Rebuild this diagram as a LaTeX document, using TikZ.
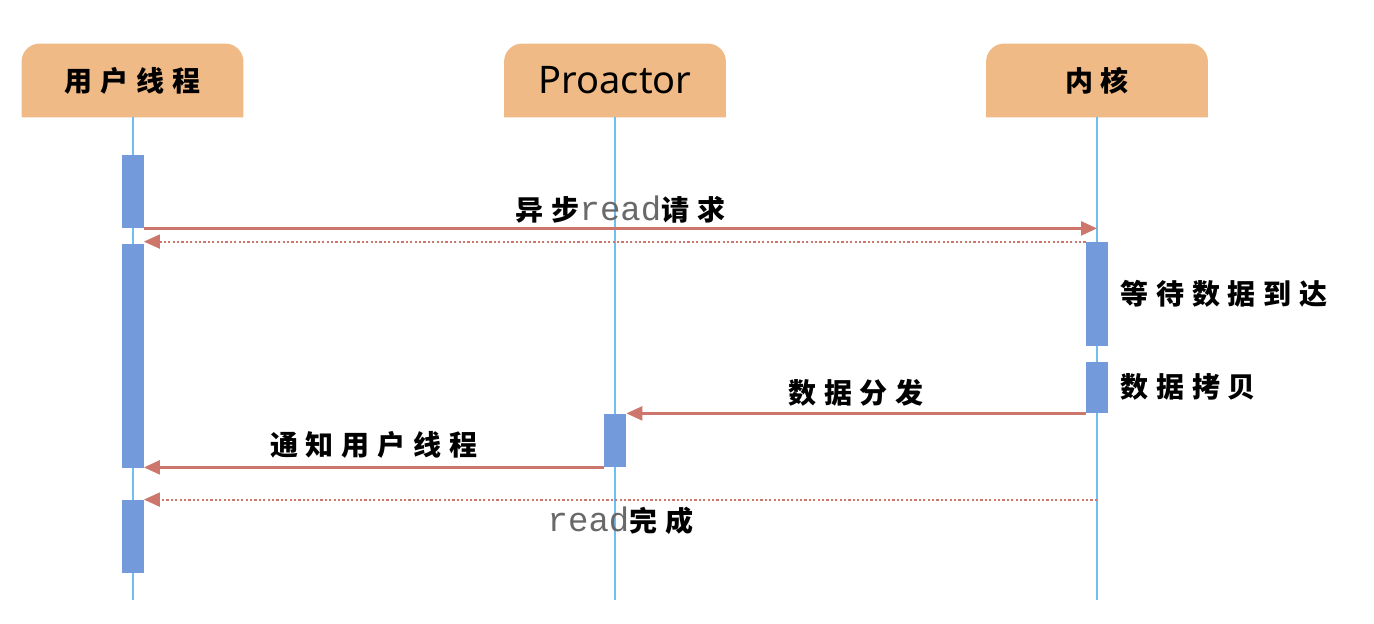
\documentclass[tikz,border=0pt]{standalone}
\usepackage{fontspec}
\newfontfamily\cjk{Noto Sans CJK SC}[LetterSpace=28]
\newfontfamily\monof{Liberation Mono}
\newfontfamily\procf{Noto Sans}
\usetikzlibrary{arrows.meta,backgrounds}
\definecolor{hdrc}{RGB}{240,186,134}
\definecolor{barc}{RGB}{115,155,220}
\definecolor{lifec}{RGB}{110,190,240}
\definecolor{arrc}{RGB}{205,118,108}
\definecolor{monoc}{RGB}{105,105,105}
\tikzset{
  hdr/.style={minimum width=110.5pt, minimum height=36.5pt, inner sep=0pt},
  hdrbg/.style={fill=hdrc},
  cjkt/.style={font=\cjk\bfseries\fontsize{14}{14}\selectfont},
  life/.style={draw=lifec, line width=1pt},
  act/.style={fill=barc, minimum width=11pt, inner sep=0pt},
  msg/.style={draw=arrc, line width=1.2pt, -{Triangle[length=8pt,width=7pt]}},
  ret/.style={draw=arrc, line width=1pt, dash pattern=on 1.1pt off 1.1pt, -{Triangle[length=8pt,width=7pt]}},
  lbl/.style={cjkt, inner sep=0pt},
}
\newcommand{\rd}{{\monof\mdseries\color{monoc}\fontsize{17}{17}\selectfont read}}
\newcommand{\hdrshape}[1]{%
  \fill[hdrbg] (#1.south west) -- ([yshift=-9pt]#1.north west)
    arc[start angle=180, end angle=90, radius=9pt]
    -- ([xshift=-9pt]#1.north east)
    arc[start angle=90, end angle=0, radius=9pt]
    -- (#1.south east) -- cycle;}
\begin{document}
\begin{tikzpicture}[x=0.5pt,y=-0.5pt]
\begin{scope}[on background layer]
\path[use as bounding box, fill=white] (0,0) rectangle (1374,624);
\end{scope}
% headers
\node[hdr, cjkt] (u) at (132.5,80.5) {用户线程\hspace{-3.9pt}};
\node[hdr, font=\procf\fontsize{19}{19}\selectfont] (p) at (615,80.5) {Proactor};
\node[hdr, cjkt] (k) at (1097,80.5) {内核\hspace{-3.9pt}};
\begin{scope}[on background layer]
  \hdrshape{u}
  \hdrshape{p}
  \hdrshape{k}
\end{scope}
% lifeline ends
\coordinate (ue) at (132.5,600);
\coordinate (pe) at (615,600);
\coordinate (ke) at (1097,600);
\draw[life] (u.south) -- (ue);
\draw[life] (p.south) -- (pe);
\draw[life] (k.south) -- (ke);
% activation bars
\node[act, minimum height=36.5pt] (ua1) at (132.5,191.5) {};
\node[act, minimum height=112pt] (ua2) at (132.5,356) {};
\node[act, minimum height=36.5pt] (ua3) at (132.5,536.5) {};
\node[act, minimum height=52pt] (k1) at (1097,294) {};
\node[act, minimum height=25.5pt] (k2) at (1097,387.5) {};
\node[act, minimum height=26.5pt] (p1) at (615,440.5) {};
% messages
\draw[msg] (ua1.south east) -- (ua1.south east -| k)
  node[lbl, midway, above=2pt] (l1) {异步\rd 请求\hspace{-3.9pt}};
\draw[ret] (k1.north west) -- (k1.north west -| ua2.east);
\node[lbl, anchor=west] (w1) at (1120,294) {等待数据到达\hspace{-3.9pt}};
\node[lbl, anchor=west] (w2) at (1120,387) {数据拷贝\hspace{-3.9pt}};
\draw[msg] (k2.south west) -- (k2.south west -| p1.east)
  node[lbl, midway, above=3pt] (l2) {数据分发\hspace{-3.9pt}};
\draw[msg] (p1.south west) -- (p1.south west -| ua2.east)
  node[lbl, midway, above=4pt] (l3) {通知用户线程\hspace{-3.9pt}};
\draw[ret] (ua3.north east -| k) -- (ua3.north east)
  node[lbl, midway, below=3pt] (l4) {\rd 完成\hspace{-3.9pt}};
\end{tikzpicture}
\end{document}
